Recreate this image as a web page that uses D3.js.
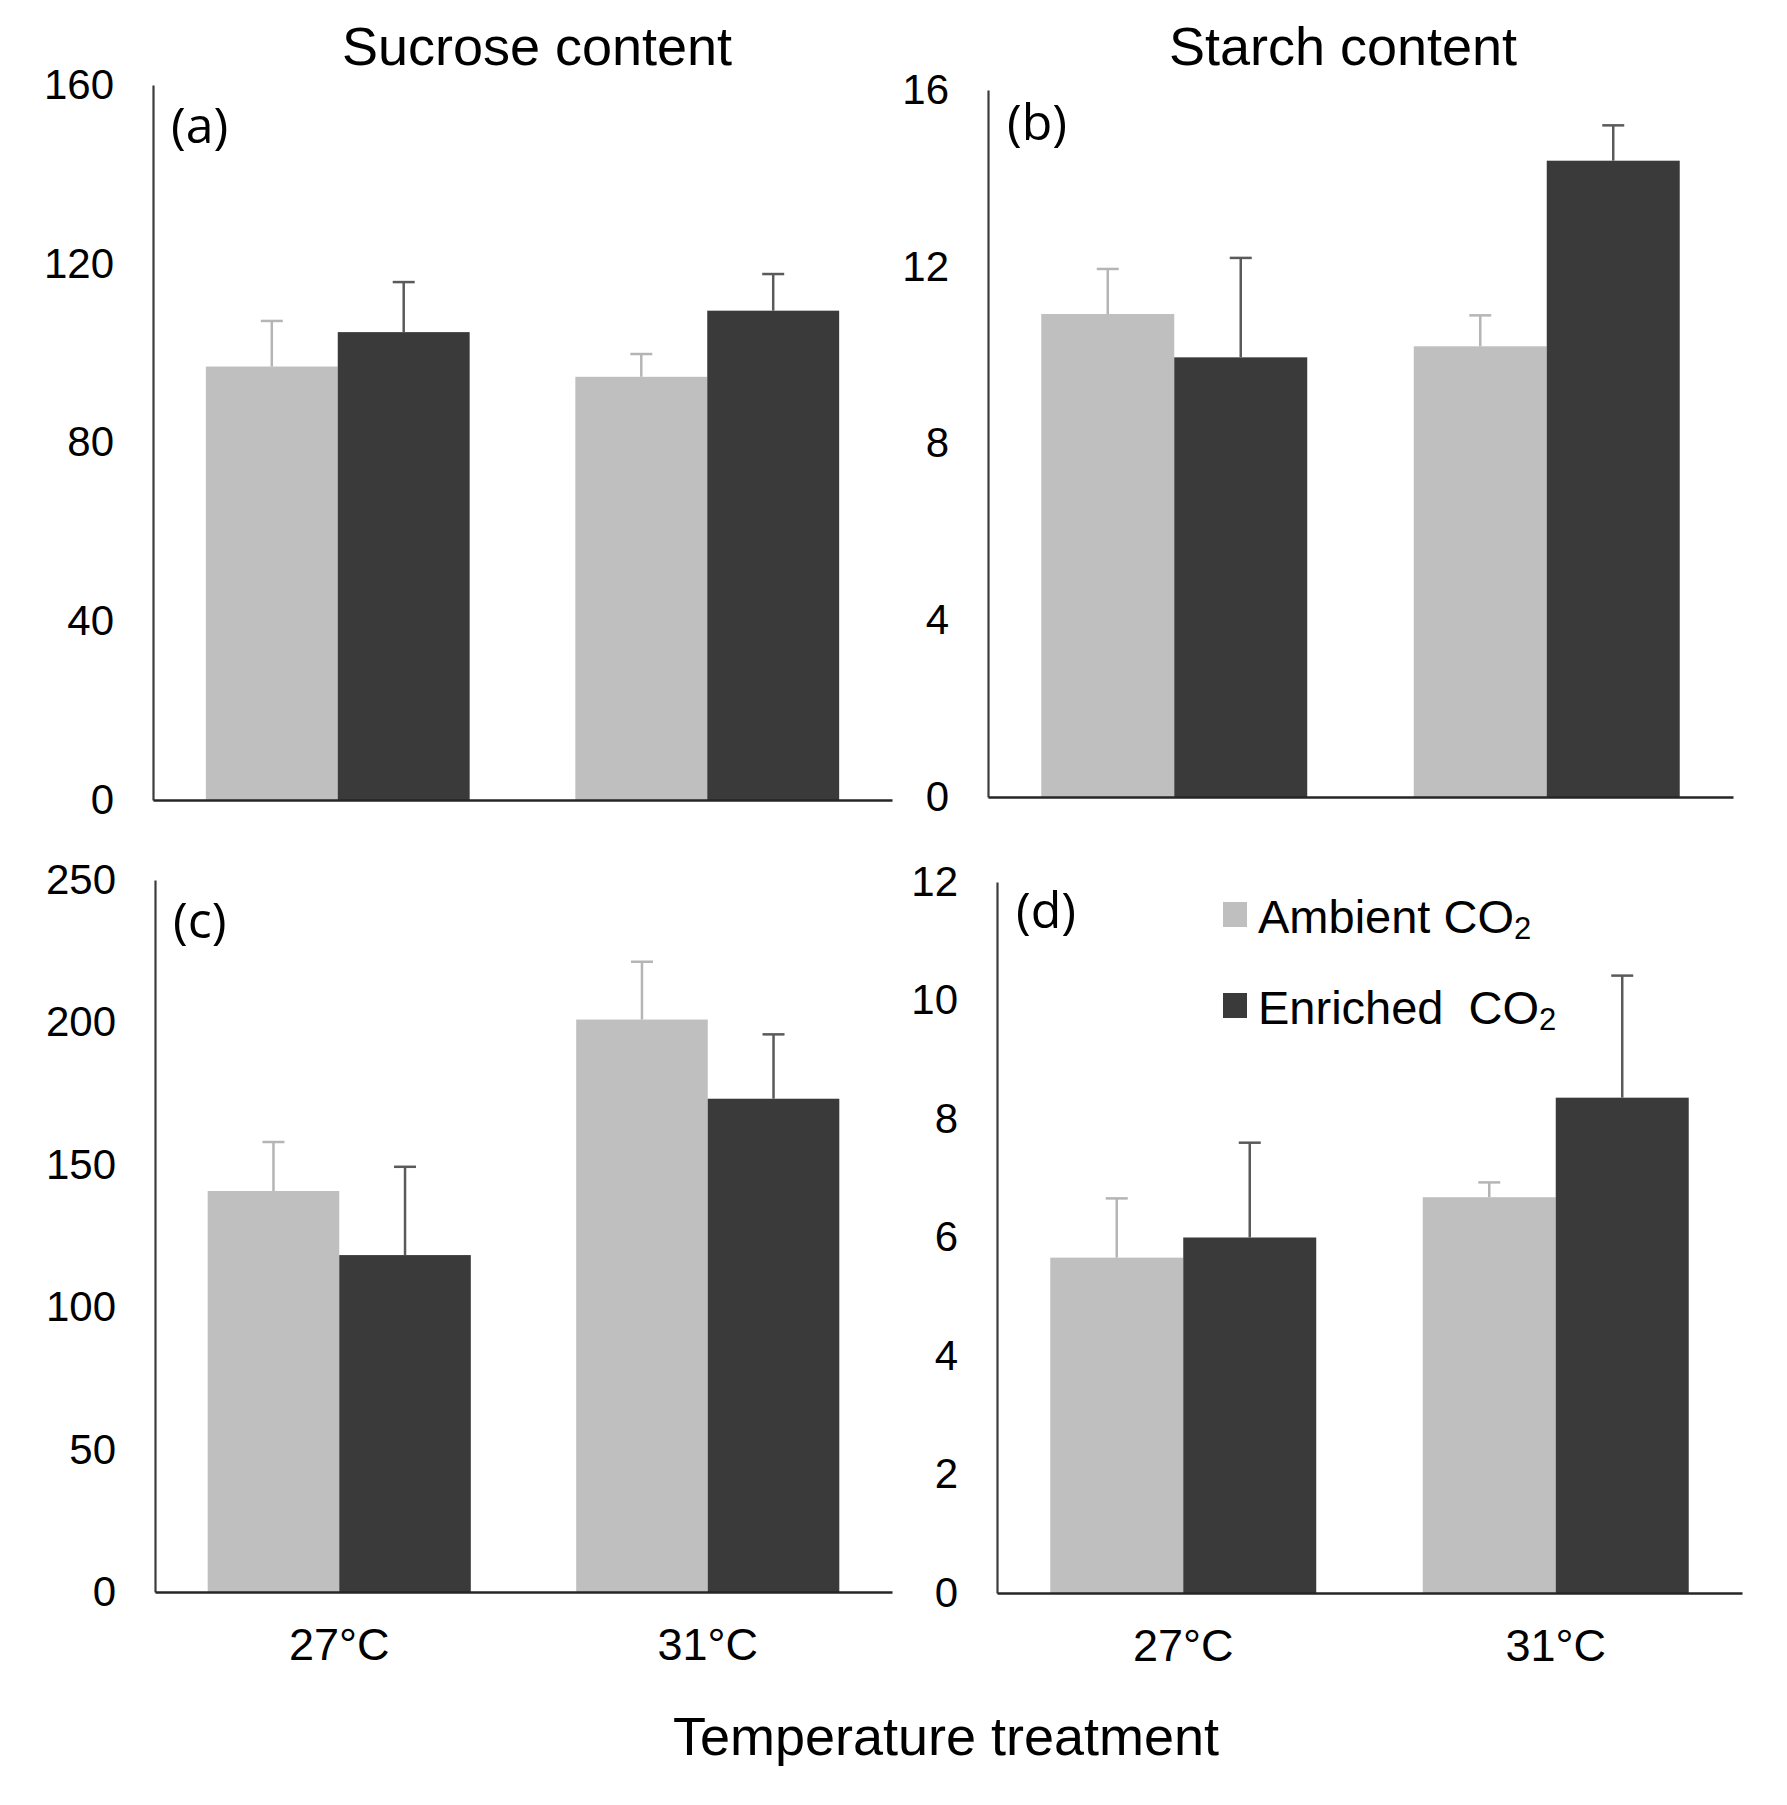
<!DOCTYPE html>
<html>
<head>
<meta charset="utf-8">
<script src="https://cdn.jsdelivr.net/npm/d3@7"></script>
<style>
  body { margin: 0; background: #fff; }
  text { font-family: "Liberation Sans", Arial, sans-serif; fill: #000; }
  .panel-label { font-family: "Open Sans", "Noto Sans", sans-serif; }
</style>
</head>
<body>
<script>
const w = 1787;
const h = 1805;

// data
const categories = ["27°C", "31°C"];
const seriesNames = ["Ambient", "Enriched"];

const sucroseAmbient = [97.0, 94.7];
const sucroseAmbientErr = [10.2, 5.1];
const sucroseEnriched = [104.7, 109.5];
const sucroseEnrichedErr = [11.2, 8.2];

const starchAmbient = [10.93, 10.2];
const starchAmbientErr = [1.02, 0.7];
const starchEnriched = [9.95, 14.4];
const starchEnrichedErr = [2.25, 0.8];

const panelCAmbient = [140.8, 201.0];
const panelCAmbientErr = [17.2, 20.3];
const panelCEnriched = [118.3, 173.2];
const panelCEnrichedErr = [31.0, 22.6];

const panelDAmbient = [5.66, 6.68];
const panelDAmbientErr = [1.0, 0.25];
const panelDEnriched = [6.0, 8.36];
const panelDEnrichedErr = [1.6, 2.06];

const ticksA = [0, 40, 80, 120, 160];
const ticksB = [0, 4, 8, 12, 16];
const ticksC = [0, 50, 100, 150, 200, 250];
const ticksD = [0, 2, 4, 6, 8, 10, 12];

const fills = { Ambient: "#bfbfbf", Enriched: "#3a3a3a" };
const errColors = { Ambient: "#b5b5b5", Enriched: "#5a5a5a" };

const svg = d3.select("body").append("svg")
  .attr("width", w)
  .attr("height", h);

svg.append("rect").attr("width", w).attr("height", h).attr("fill", "#fff");

function rows(amb, ambErr, enr, enrErr) {
  return categories.map((c, i) => ({
    cat: c,
    values: [
      { s: "Ambient", v: amb[i], e: ambErr[i] },
      { s: "Enriched", v: enr[i], e: enrErr[i] }
    ]
  }));
}

const panels = [
  { id: "a", data: rows(sucroseAmbient, sucroseAmbientErr, sucroseEnriched, sucroseEnrichedErr),
    ticks: ticksA, left: 153, right: 892, top: 85, bottom: 800,
    labelDx: 18, labelDy: 58, title: "Sucrose content", titleX: 537, xLabels: false },
  { id: "b", data: rows(starchAmbient, starchAmbientErr, starchEnriched, starchEnrichedErr),
    ticks: ticksB, left: 988, right: 1733, top: 90, bottom: 797,
    labelDx: 19, labelDy: 50, title: "Starch content", titleX: 1343, xLabels: false },
  { id: "c", data: rows(panelCAmbient, panelCAmbientErr, panelCEnriched, panelCEnrichedErr),
    ticks: ticksC, left: 155, right: 892, top: 880, bottom: 1592,
    labelDx: 18, labelDy: 58, title: null, xLabels: true },
  { id: "d", data: rows(panelDAmbient, panelDAmbientErr, panelDEnriched, panelDEnrichedErr),
    ticks: ticksD, left: 997, right: 1742, top: 882, bottom: 1593,
    labelDx: 19, labelDy: 46, title: null, xLabels: true }
];

panels.forEach(drawPanel);

function drawPanel(p) {
  const g = svg.append("g").attr("class", "panel-" + p.id);

  const x0 = d3.scaleBand()
    .domain(categories)
    .range([p.left, p.right])
    .paddingInner(0.286)
    .paddingOuter(0.143);

  const x1 = d3.scaleBand()
    .domain(seriesNames)
    .range([0, x0.bandwidth()])
    .padding(0);

  const y = d3.scaleLinear()
    .domain([0, d3.max(p.ticks)])
    .range([p.bottom, p.top]);

  // bars
  const groups = g.selectAll(".grp")
    .data(p.data)
    .enter()
    .append("g")
    .attr("class", "grp")
    .attr("transform", d => "translate(" + x0(d.cat) + ",0)");

  groups.selectAll(".bar")
    .data(d => d.values)
    .enter()
    .append("rect")
    .attr("class", "bar")
    .attr("x", d => x1(d.s))
    .attr("y", d => y(d.v))
    .attr("width", x1.bandwidth())
    .attr("height", d => y(0) - y(d.v))
    .attr("fill", d => fills[d.s]);

  // error bars (upper only)
  const err = groups.selectAll(".err")
    .data(d => d.values)
    .enter()
    .append("g")
    .attr("class", "err")
    .attr("stroke", d => errColors[d.s])
    .attr("stroke-width", 2.5);

  err.append("line")
    .attr("x1", d => x1(d.s) + x1.bandwidth() / 2)
    .attr("x2", d => x1(d.s) + x1.bandwidth() / 2)
    .attr("y1", d => y(d.v))
    .attr("y2", d => y(d.v + d.e));

  err.append("line")
    .attr("x1", d => x1(d.s) + x1.bandwidth() / 2 - 11)
    .attr("x2", d => x1(d.s) + x1.bandwidth() / 2 + 11)
    .attr("y1", d => y(d.v + d.e))
    .attr("y2", d => y(d.v + d.e));

  // y axis
  const yAxis = d3.axisLeft(y)
    .tickValues(p.ticks)
    .tickSize(0)
    .tickPadding(39)
    .tickFormat(d3.format("d"));

  const yg = g.append("g")
    .attr("transform", "translate(" + p.left + ",0)")
    .call(yAxis);
  yg.select(".domain").attr("stroke", "#3c3c3c").attr("stroke-width", 2.2);
  yg.selectAll("text").attr("font-size", 42).attr("fill", "#000");

  // x axis
  const xAxis = d3.axisBottom(x0)
    .tickSize(0)
    .tickPadding(36)
    .tickFormat(p.xLabels ? (d => d) : () => "");

  const xg = g.append("g")
    .attr("transform", "translate(0," + p.bottom + ")")
    .call(xAxis);
  xg.select(".domain").attr("stroke", "#262626").attr("stroke-width", 2.6);
  xg.selectAll("text").attr("font-size", 45).attr("fill", "#000");

  // panel letter
  g.append("text")
    .attr("class", "panel-label")
    .attr("x", p.left + p.labelDx)
    .attr("y", p.top + p.labelDy)
    .attr("font-size", 50)
    .text("(" + p.id + ")");

  if (p.title) {
    g.append("text")
      .attr("x", p.titleX)
      .attr("y", 65)
      .attr("text-anchor", "middle")
      .attr("font-size", 54)
      .text(p.title);
  }
}

// legend (inside panel d)
const legendRows = [
  { s: "Ambient", text: "Ambient", y: 902, gap: 0 },
  { s: "Enriched", text: "Enriched", y: 993, gap: 12 }
];

const legend = svg.append("g").attr("class", "legend");

legendRows.forEach(r => {
  legend.append("rect")
    .attr("x", 1223)
    .attr("y", r.y)
    .attr("width", 24)
    .attr("height", 25)
    .attr("fill", fills[r.s]);

  const t = legend.append("text")
    .attr("x", 1258)
    .attr("y", r.y + 31)
    .attr("font-size", 47);
  t.append("tspan").text(r.text);
  t.append("tspan").attr("dx", r.gap).text(" CO");
  t.append("tspan").attr("dy", 6).attr("font-size", 31).text("2");
});

// shared x title
svg.append("text")
  .attr("x", 946)
  .attr("y", 1755)
  .attr("text-anchor", "middle")
  .attr("font-size", 54)
  .text("Temperature treatment");
</script>
</body>
</html>
